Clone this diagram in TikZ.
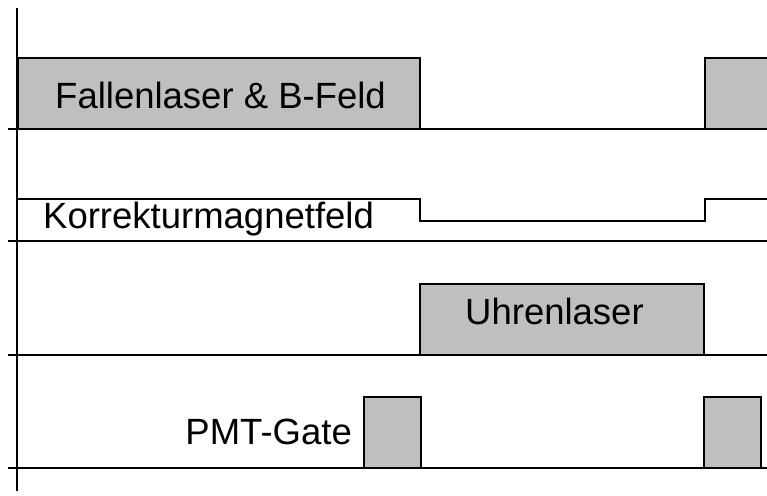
\documentclass[tikz,border=0pt]{standalone}
\usepackage{fontspec}
\setmainfont{Liberation Sans}
\usepackage{tikz}
\definecolor{pulsegray}{RGB}{191,191,191}

\begin{document}
\begin{tikzpicture}[
        x=1pt, y=1pt,
        pulse/.style={draw=black, fill=pulsegray, line width=2.6pt},
        track/.style={draw=black, line width=2pt},
        level/.style={draw=black, line width=2.4pt},
        lbl/.style={inner sep=0pt, font=\fontsize{36.5}{40}\selectfont}
    ]
        \clip (0,0) rectangle (767,495);

        % --- Pulse boxes ---
        \draw[pulse] (18,366) rectangle (420,437);
        \draw[pulse] (705,366) rectangle (790,437);
        \draw[pulse] (420,140) rectangle (704,211);
        \draw[pulse] (364,27) rectangle (421,98);
        \draw[pulse] (704,27) rectangle (761,98);

        % --- Korrekturfeld level ---
        \draw[level] (17,296) -- (420,296) -- (420,274) -- (705,274) -- (705,296) -- (790,296);

        % --- Time axes ---
        \coordinate (top) at (17,487);
        \coordinate (bottom) at (17,4);
        \draw[track] (top) -- (bottom);
        \foreach \y in {366,254,140,27}
            \draw[track] (8,\y) -- (767,\y);

        % --- Labels ---
        \node[lbl, anchor=base west] (fallen) at (55,386) {Fallenlaser \& B-Feld};
        \node[lbl, anchor=base west] (korr) at (43,266) {Korrekturmagnetfeld};
        \node[lbl, anchor=base west] (uhr) at (465,170) {Uhrenlaser};
        \node[lbl, anchor=base east] (pmt) at (352,51) {PMT-Gate};

    \end{tikzpicture}
\end{document}
